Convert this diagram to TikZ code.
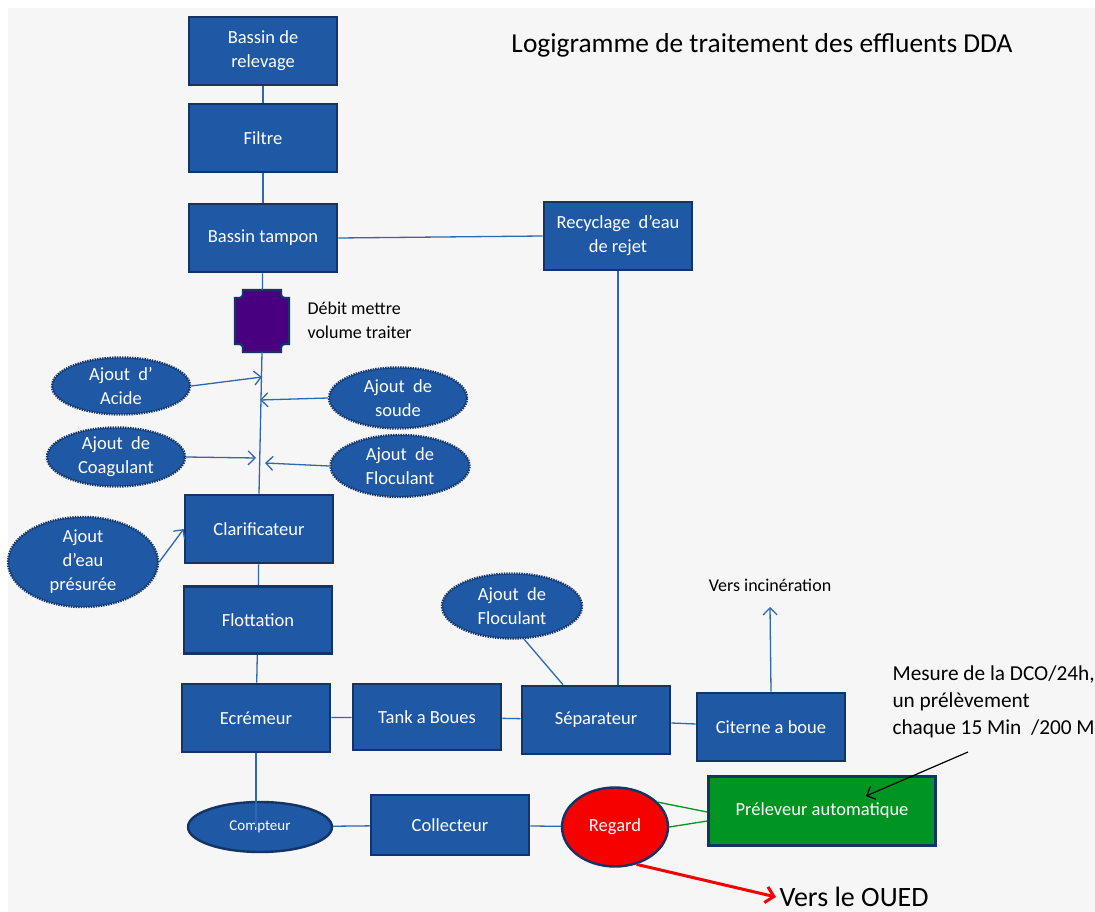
\documentclass[tikz,border=0pt]{standalone}
\usepackage{fontspec}
\setmainfont{Carlito}
\usetikzlibrary{shapes.geometric,arrows.meta}
\definecolor{boxblue}{RGB}{31,89,165}
\definecolor{boxedge}{RGB}{20,52,102}
\definecolor{flowblue}{RGB}{46,104,178}
\definecolor{debitviolet}{RGB}{72,0,128}
\definecolor{prelgreen}{RGB}{0,148,34}
\definecolor{regardred}{RGB}{246,0,0}
\definecolor{fond}{RGB}{246,246,246}
\begin{document}
\begin{tikzpicture}[x=1pt,y=-1pt,
  etape/.style={draw=boxedge,line width=2.6pt,fill=boxblue,text=white,align=center,
    minimum width=148pt,minimum height=68pt,inner sep=2pt,
    font=\fontsize{18.5}{24}\selectfont},
  ajout/.style={ellipse,draw=boxedge,line width=2.4pt,dash pattern=on 1.4pt off 1.1pt,
    fill=boxblue,text=white,align=center,inner sep=0pt,
    font=\fontsize{18.5}{24}\selectfont},
  flux/.style={flowblue,line width=1.3pt},
  fluxfl/.style={flux,-{Straight Barb[length=7pt,width=14pt]}}]
\useasboundingbox (0,0) rectangle (1095,912);
% fond
\fill[white] (0,0) rectangle (1095,912);
\fill[fond] (8,8) rectangle (1095,912);
\node[font=\fontsize{27.4}{32}\selectfont] (titre) at (762,45) {Logigramme de traitement des effluents DDA};
% chaine principale
\node[etape] (relevage) at (263,51) {Bassin de\\relevage};
\node[etape] (filtre) at (263,138) {Filtre};
\node[etape] (tampon) at (263,238) {Bassin tampon};
\node[etape] (recyclage) at (618,236) {Recyclage\ \ d’eau\\de rejet};
% debit metre
\draw[draw=boxedge,line width=2.2pt,fill=debitviolet] (243,290) -- (281,290)
  .. controls (281,298) .. (289,298) -- (289,344)
  .. controls (281,344) .. (281,352) -- (243,352)
  .. controls (243,344) .. (235,344) -- (235,298)
  .. controls (243,298) .. (243,290) -- cycle;
\node[minimum width=54pt,minimum height=62pt,inner sep=0pt] (debit) at (262,321) {};
\node[align=left,anchor=west,font=\fontsize{18}{24}\selectfont] (debittxt) at (304,320) {Débit mettre\\volume traiter};
% ajouts
\node[ajout,minimum width=138pt,minimum height=57pt] (acide) at (121,386) {Ajout\ \ d’\\Acide};
\node[ajout,minimum width=138pt,minimum height=61pt] (soude) at (398,398) {Ajout\ \ de\\soude};
\node[ajout,minimum width=138pt,minimum height=59pt] (coag) at (116,457) {Ajout\ \ de\\Coagulant};
\node[ajout,minimum width=139pt,minimum height=62pt] (floc) at (400,466) {Ajout\ \ de\\Floculant};
\node[ajout,minimum width=150pt,minimum height=89pt] (eau) at (83,562) {Ajout\\d’eau\\présurée};
\node[ajout,minimum width=140pt,minimum height=65pt] (floc2) at (512,606) {Ajout\ \ de\\Floculant};
\node[etape] (clarif) at (259,529) {Clarificateur};
\node[etape,minimum height=67pt] (flott) at (258,620) {Flottation};
\node[etape] (ecremeur) at (256,718) {Ecrémeur};
\node[etape,minimum height=66pt] (tank) at (427,717) {Tank a Boues};
\node[etape] (separ) at (596,720) {Séparateur};
\node[etape] (citerne) at (771,727) {Citerne a boue};
\node[font=\fontsize{18}{22}\selectfont] (incin) at (770,585) {Vers incinération};
\node[align=left,anchor=north west,font=\fontsize{21.3}{27}\selectfont] (mesure) at (889,662)
  {Mesure de la DCO/24h,\\un prélèvement\\chaque 15 Min\ \ /200 M};
% sortie
\node[ellipse,draw=boxedge,line width=2.4pt,fill=boxblue,text=white,inner sep=0pt,
  minimum width=144pt,minimum height=50pt,font=\fontsize{15}{18}\selectfont] (compteur) at (260,827) {Compteur};
\node[etape,minimum width=158pt,minimum height=60pt] (collecteur) at (450,825) {Collecteur};
\node[ellipse,draw=boxedge,line width=2.4pt,fill=regardred,text=white,inner sep=0pt,
  minimum width=106pt,minimum height=79pt,font=\fontsize{18.5}{22}\selectfont] (regard) at (615,827) {Regard};
\node[etape,fill=prelgreen,minimum width=227pt,minimum height=69pt] (preleveur) at (822,811) {Préleveur automatique};
\node[anchor=west,font=\fontsize{28}{32}\selectfont] (oued) at (776,897) {Vers le OUED};
% liaisons
\draw[flux] (relevage) -- (filtre);
\draw[flux] (filtre) -- (tampon);
\draw[flux] (tampon) -- (debit);
\draw[flux] (tampon.east) -- (recyclage.west);
\draw[flux] (recyclage.south) -- (separ.north -| recyclage.south);
\draw[flux] (debit.south) -- (clarif.north);
\draw[fluxfl] (acide.east) -- (262,377);
\draw[fluxfl] (soude.west) -- (260,400);
\draw[fluxfl] (coag.east) -- (256,458);
\draw[fluxfl] (floc.west) -- (265,463);
\draw[fluxfl] (eau.east) -- (clarif.west);
\draw[flux] (clarif) -- (flott);
\draw[flux] (flott) -- (ecremeur);
\draw[flux] (ecremeur) -- (tank);
\draw[flux] (tank) -- (separ);
\draw[flux] (separ) -- (citerne);
\draw[flux] (floc2.290) -- (separ.north -| 563,0);
\draw[fluxfl] (citerne.north) -- (incin.south |- 0,607);
\draw[flux] (ecremeur.south) -- (ecremeur.south |- compteur.center);
\draw[flux] (compteur) -- (collecteur);
\draw[flux] (collecteur) -- (regard);
\draw[prelgreen,line width=1.3pt] (regard.30) -- (preleveur.west |- 0,812);
\draw[prelgreen,line width=1.3pt] (regard.east) -- (preleveur.west |- 0,821);
\draw[line width=1.2pt,-{Straight Barb[length=7pt,width=14pt]}] (968,752) -- (866,796);
\draw[regardred,line width=3pt,-{Straight Barb[length=8pt,width=16pt]}] (regard.-60) -- (oued.west);
\end{tikzpicture}
\end{document}
